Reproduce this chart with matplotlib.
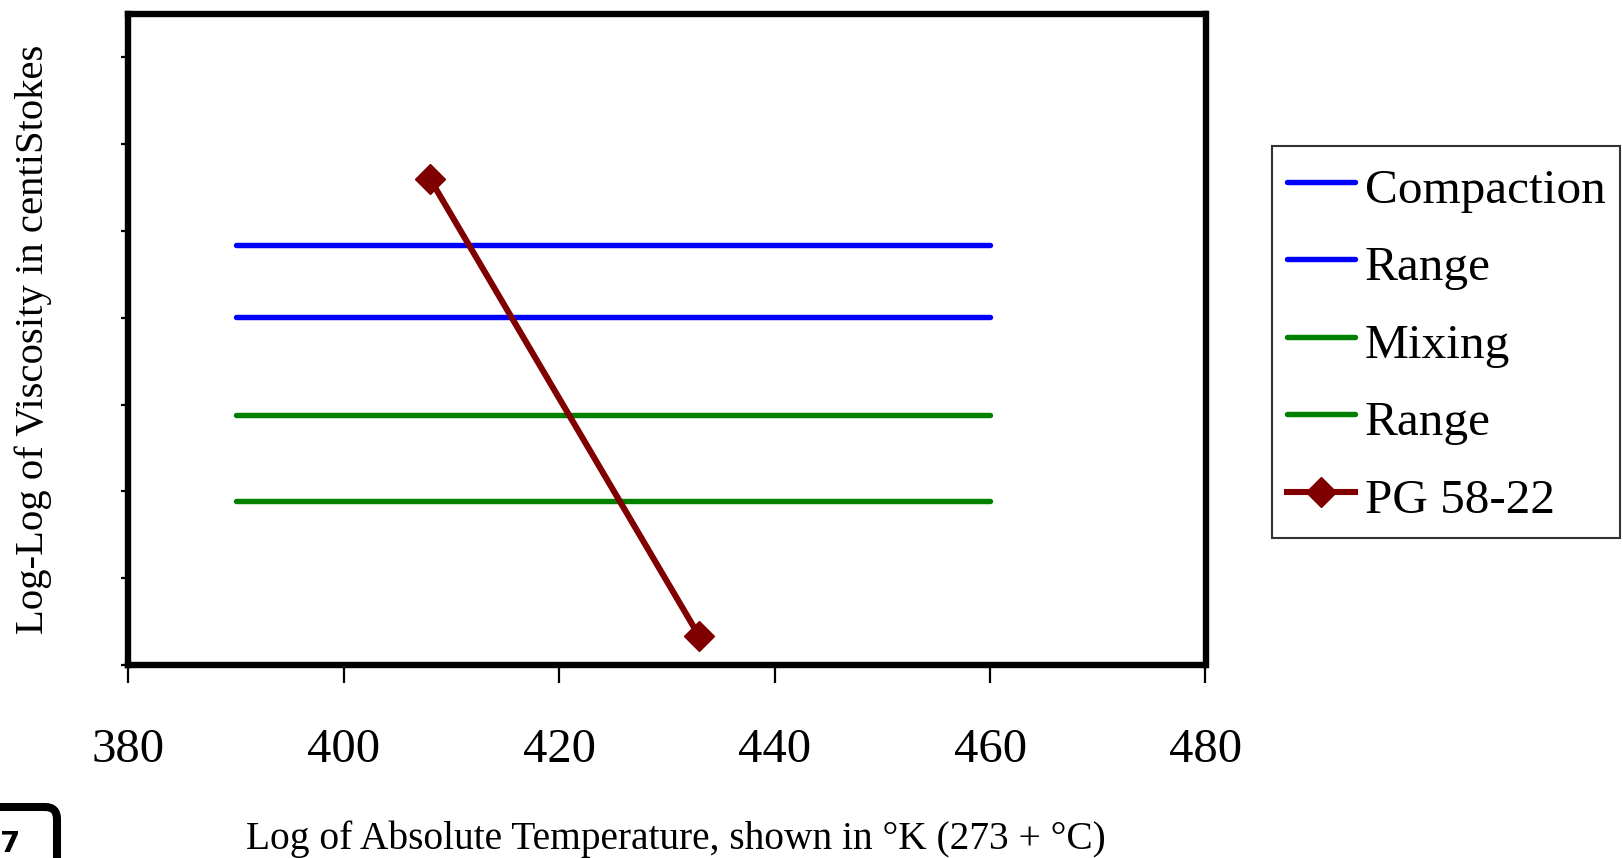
import numpy as np
import matplotlib
matplotlib.use('Agg')
import matplotlib.pyplot as plt
from matplotlib.patches import FancyBboxPatch

plt.rcParams['font.family'] = ['Liberation Serif', 'DejaVu Serif']

# data (y in tick units, axis has no y labels)
range_x = [390, 460]
compaction_hi = [4.84, 4.84]
compaction_lo = [4.01, 4.01]
mixing_hi = [2.88, 2.88]
mixing_lo = [1.89, 1.89]
pg_temp = [408, 433]
pg_visc = [5.60, 0.33]

x_ticks = [380, 400, 420, 440, 460, 480]
y_ticks = [0, 1, 2, 3, 4, 5, 6, 7]

W, H = 1624, 858
fig = plt.figure(figsize=(W / 100, H / 100), dpi=100)
ax = fig.add_axes([128.5 / W, 1 - 665 / H, 1077 / W, 651 / H])

blue = '#0000FF'
green = '#008000'
maroon = '#800000'

ax.plot(range_x, compaction_hi, color=blue, lw=3.9, solid_capstyle='round', label='Compaction')
ax.plot(range_x, compaction_lo, color=blue, lw=3.9, solid_capstyle='round', label='Range')
ax.plot(range_x, mixing_hi, color=green, lw=3.9, solid_capstyle='round', label='Mixing')
ax.plot(range_x, mixing_lo, color=green, lw=3.9, solid_capstyle='round', label='Range')
ax.plot(pg_temp, pg_visc, color=maroon, lw=4.4, marker='D', ms=15, label='PG 58-22')

ax.set_xlim(380, 480)
ax.set_ylim(0, 7.5)
ax.set_xticks(x_ticks)
ax.set_yticks(y_ticks)
ax.set_yticklabels([])
ax.tick_params(axis='x', direction='out', length=13, width=1.6, pad=32.5, labelsize=35)
ax.tick_params(axis='y', direction='out', length=5, width=1.6)
for s in ax.spines.values():
    s.set_linewidth(4.6)

ax.set_xlabel('Log of Absolute Temperature, shown in °K (273 + °C)', fontsize=28.4, labelpad=35)
ax.xaxis.label.set_x(0.5 + 9 / 1077)
ax.set_ylabel('Log-Log of Viscosity in centiStokes', fontsize=29.3, labelpad=46.5)

leg = ax.legend(loc='upper left', bbox_to_anchor=(1272 / W, 1 - 146 / H),
                bbox_transform=fig.transFigure, fontsize=35.5, frameon=True,
                fancybox=False, edgecolor='black', handlelength=1.38,
                handleheight=1.2, handletextpad=0.2, labelspacing=0.52,
                borderpad=0.3, borderaxespad=0)
leg.get_frame().set_linewidth(1.5)

# partial page-number box in the lower-left corner
box = FancyBboxPatch((-60 / W, -0.1), 117 / W, 0.1 + 1 - 807 / H,
                     boxstyle='round,pad=0,rounding_size=%f' % (12 / W),
                     mutation_aspect=W / H, transform=fig.transFigure,
                     fill=False, lw=5.8, edgecolor='black', clip_on=False)
fig.patches.append(box)
fig.text(0.0, 0.0, '7', fontsize=21, fontweight='bold', family='DejaVu Sans',
         ha='left', va='bottom')

fig.savefig('out.png', dpi=100)
